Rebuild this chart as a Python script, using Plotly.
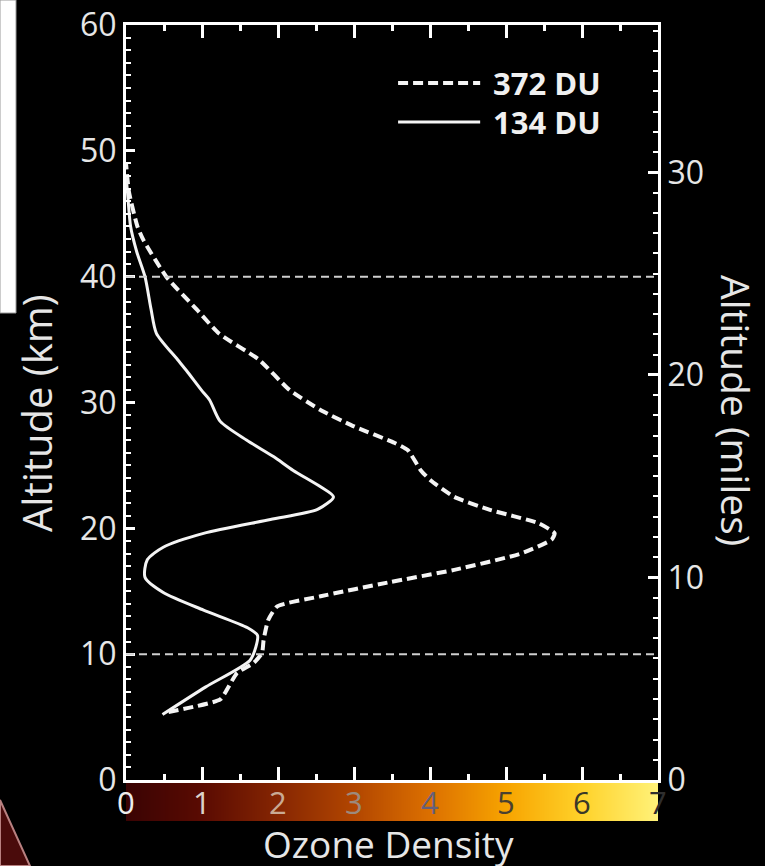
import plotly.graph_objects as go

# ---------------- data ----------------
alt_134 = [5.2, 7.4, 9.5, 10.6, 11.5, 12.1, 13.5, 14.9, 16.1, 17.5, 18.5, 19.6, 20.7,
           21.5, 22.5, 23.3, 24.6, 25.7, 27.0, 28.5, 30.2, 31.0, 32.5, 33.4, 35.5,
           37.4, 40.0, 42.0, 44.0, 46.7, 48.0]
dens_134 = [0.48, 1.05, 1.63, 1.71, 1.73, 1.60, 1.02, 0.49, 0.25, 0.28, 0.49, 1.02, 1.90,
            2.52, 2.73, 2.56, 2.20, 1.94, 1.59, 1.24, 1.10, 0.99, 0.80, 0.68, 0.40,
            0.33, 0.25, 0.14, 0.06, 0.02, 0.0]

alt_372 = [5.4, 6.4, 7.2, 8.5, 9.3, 10.1, 11.1, 12.7, 13.8, 14.6, 15.7, 16.7, 18.0,
           19.1, 19.6, 20.4, 21.5, 22.5, 23.8, 24.6, 26.2, 26.8, 28.1, 29.4, 31.0,
           33.4, 35.5, 37.4, 40.0, 42.9, 44.0, 46.7, 49.0]
dens_372 = [0.56, 1.24, 1.33, 1.46, 1.68, 1.79, 1.81, 1.87, 1.99, 2.56, 3.45, 4.32, 5.20,
            5.60, 5.64, 5.43, 4.77, 4.32, 4.01, 3.88, 3.71, 3.53, 3.00, 2.56, 2.15,
            1.75, 1.22, 0.93, 0.53, 0.23, 0.15, 0.04, 0.0]

series_names = ["372 DU", "134 DU"]
ref_altitudes = [10, 40]

density_ticks = [0, 1, 2, 3, 4, 5, 6, 7]
density_label_colors = ["#ececec", "#dcd2ca", "#c9aa94", "#9c8a7c",
                        "#66607a", "#4a4030", "#3a3828", "#2e2e2e"]
km_ticks = [0, 10, 20, 30, 40, 50, 60]
mile_ticks = [0, 10, 20, 30]
KM_PER_MILE = 1.609344

colorscale = [[0.0, "#3a0303"], [1/7, "#5a0b02"], [2/7, "#862602"], [3/7, "#b24600"],
              [4/7, "#dc7000"], [5/7, "#f7a400"], [6/7, "#ffd22a"], [1.0, "#fff27a"]]

# ---------------- geometry ----------------
W, H = 765, 866
def px(x): return x / W
def py(y): return 1 - y / H

FONT = "Open Sans"
TXT = "#e6e6e6"

fig = go.Figure()

fig.add_trace(go.Scatter(x=dens_372, y=alt_372, mode="lines", name=series_names[0],
                         line=dict(color="#f4f4f4", width=4, dash="10px,5px",
                                   shape="spline", smoothing=0.5),
                         showlegend=False))
fig.add_trace(go.Scatter(x=dens_134, y=alt_134, mode="lines", name=series_names[1],
                         line=dict(color="#f4f4f4", width=3, shape="spline", smoothing=0.7),
                         showlegend=False))
# invisible trace so the miles axis is drawn
fig.add_trace(go.Scatter(x=[density_ticks[0], density_ticks[0]],
                         y=[mile_ticks[0], mile_ticks[-1]], yaxis="y2", mode="none",
                         showlegend=False, hoverinfo="skip"))

# colour bar strip
fig.add_trace(go.Heatmap(x=density_ticks, y=[0], z=[density_ticks], colorscale=colorscale,
                         zmin=0, zmax=7, zsmooth="best", showscale=False,
                         xaxis="x2", yaxis="y3", hoverinfo="skip"))

for a in ref_altitudes:
    fig.add_hline(y=a, line=dict(color="#cfcfcf", width=2, dash="8px,5px"))

xdom = [px(126), px(658)]
fig.update_layout(
    width=W, height=H, autosize=False,
    margin=dict(l=0, r=0, t=0, b=0, pad=0, autoexpand=False),
    paper_bgcolor="black", plot_bgcolor="black",
    font=dict(family=FONT, color=TXT),
    xaxis=dict(domain=xdom, range=[0, 7], showgrid=False, zeroline=False,
               automargin=False,
               showline=True, linecolor="white", linewidth=3, mirror="ticks",
               ticks="inside", tickvals=density_ticks, ticklen=13, tickwidth=2.5,
               tickcolor="white", showticklabels=False,
               minor=dict(dtick=0.5, ticks="inside", ticklen=6, tickwidth=2.5,
                          tickcolor="white")),
    yaxis=dict(domain=[py(780), py(25)], range=[0, 60], showgrid=False, zeroline=False,
               automargin=False,
               showline=True, linecolor="white", linewidth=3,
               ticks="inside", tickvals=km_ticks, ticklen=9, tickwidth=2.5,
               tickcolor="white", tickfont=dict(size=32, color=TXT),
               minor=dict(dtick=1, ticks="inside", ticklen=5, tickwidth=2,
                          tickcolor="white")),
    yaxis2=dict(overlaying="y", side="right", anchor="x", range=[0, 60 / KM_PER_MILE],
                automargin=False,
                showgrid=False, zeroline=False, showline=True, linecolor="white",
                linewidth=3, ticks="inside", tickvals=mile_ticks, ticklen=10,
                tickwidth=2.5, tickcolor="white", tickfont=dict(size=32, color=TXT),
                minor=dict(dtick=1, ticks="inside", ticklen=5, tickwidth=2,
                           tickcolor="white")),
    xaxis2=dict(domain=xdom, range=[0, 7], visible=False, anchor="y3", automargin=False),
    yaxis3=dict(domain=[py(821), py(783)], range=[-0.5, 0.5], visible=False,
                anchor="x2", automargin=False),
)

# decorative slide elements
fig.add_shape(type="rect", xref="paper", yref="paper", x0=0, x1=px(16), y0=py(313), y1=1,
              fillcolor="white", line=dict(color="#9a9a9a", width=1), layer="below")
fig.add_shape(type="path", xref="paper", yref="paper",
              path=f"M 0,{py(800)} L {px(30)},{py(866)} L 0,{py(866)} Z",
              fillcolor="#4a0b0b", line=dict(color="#b88080", width=2), layer="below")

# colour bar labels
for v, c in zip(density_ticks, density_label_colors):
    fig.add_annotation(x=v, y=0, xref="x2", yref="y3", text=str(v), showarrow=False,
                       font=dict(size=31, color=c, family=FONT), xanchor="center",
                       yanchor="middle", borderpad=0)

# axis titles
fig.add_annotation(x=px(36), y=py(413), xref="paper", yref="paper", text="Altitude (km)",
                   textangle=-90, showarrow=False, xanchor="center", yanchor="middle",
                   font=dict(size=40, color=TXT))
fig.add_annotation(x=px(737), y=py(410), xref="paper", yref="paper",
                   text="Altitude (miles)", textangle=90, showarrow=False,
                   xanchor="center", yanchor="middle", font=dict(size=39, color=TXT))
fig.add_annotation(x=px(388), y=py(843), xref="paper", yref="paper", text="Ozone Density",
                   showarrow=False, xanchor="center", yanchor="middle", borderpad=0,
                   font=dict(size=37, color=TXT))

# legend (drawn)
leg_y = [55.4, 52.3]
leg_dash = ["10px,5px", "solid"]
leg_w = [4, 3]
for name, yy, d, w in zip(series_names, leg_y, leg_dash, leg_w):
    fig.add_shape(type="line", xref="x", yref="y", x0=3.58, x1=4.66, y0=yy, y1=yy,
                  line=dict(color="#f4f4f4", width=w, dash=d))
    fig.add_annotation(x=4.80, y=yy, xref="x", yref="y", text=f"<b>{name}</b>",
                       showarrow=False, xanchor="left", yanchor="middle",
                       font=dict(size=31, color="#f0f0f0", family=FONT))

fig.write_html("out.html", config={"displayModeBar": False},
               post_script="document.body.style.margin='0';"
                           "document.body.style.background='black';"
                           "document.body.style.overflow='hidden';")
